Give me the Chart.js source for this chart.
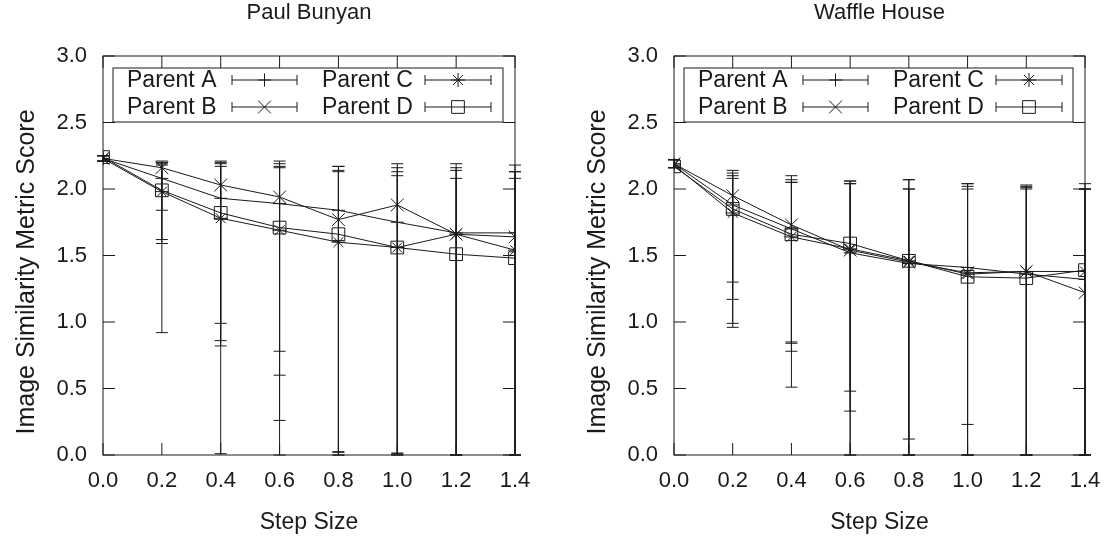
<!DOCTYPE html>
<html lang="en">
<head>
<meta charset="UTF-8">
<script src="https://cdn.jsdelivr.net/npm/chart.js@4.4.1/dist/chart.umd.min.js"></script>
<style>
    body {
        margin: 0;
        background: #fff;
    }

    .charts {
        display: flex;
        width: 1116px;
        height: 542px;
    }

    canvas {
        display: block;
    }
</style>
<title>Image Similarity Metric Score vs Step Size</title>
</head>
<body>
<div class="charts">
    <canvas id="chartPB" width="558" height="542"></canvas>
    <canvas id="chartWH" width="558" height="542"></canvas>
</div>

<script>
    // x positions and axis ticks
    const stepSizes = [0.0, 0.2, 0.4, 0.6, 0.8, 1.0, 1.2, 1.4];
    const scoreTicks = [0.0, 0.5, 1.0, 1.5, 2.0, 2.5, 3.0];
    const parentNames = ['Parent A', 'Parent B', 'Parent C', 'Parent D'];

    // Paul Bunyan - mean scores
    const pbParentA = [2.23, 2.08, 1.93, 1.89, 1.84, 1.75, 1.67, 1.67];
    const pbParentB = [2.23, 2.16, 2.03, 1.94, 1.77, 1.88, 1.66, 1.64];
    const pbParentC = [2.23, 1.98, 1.78, 1.69, 1.60, 1.56, 1.66, 1.54];
    const pbParentD = [2.24, 1.99, 1.82, 1.71, 1.66, 1.56, 1.51, 1.48];
    // Paul Bunyan - error bar ends
    const pbLowA = [2.21, 0.92, 0.01, 0.00, 0.00, 0.00, 0.00, 0.00];
    const pbHighA = [2.25, 2.20, 2.20, 2.19, 2.17, 2.16, 2.14, 2.13];
    const pbLowB = [2.21, 1.84, 0.99, 0.78, 0.025, 0.015, 0.00, 0.00];
    const pbHighB = [2.25, 2.21, 2.21, 2.21, 2.17, 2.19, 2.19, 2.18];
    const pbLowC = [2.21, 1.59, 0.82, 0.26, 0.02, 0.01, 0.00, 0.00];
    const pbHighC = [2.25, 2.19, 2.19, 2.17, 2.14, 2.13, 2.16, 2.08];
    const pbLowD = [2.21, 1.62, 0.86, 0.60, 0.00, 0.00, 0.00, 0.00];
    const pbHighD = [2.25, 2.18, 2.17, 2.16, 2.13, 2.10, 2.08, 2.13];

    // Waffle House - mean scores
    const whParentA = [2.19, 1.88, 1.70, 1.52, 1.44, 1.41, 1.36, 1.32];
    const whParentB = [2.19, 1.95, 1.73, 1.54, 1.45, 1.37, 1.38, 1.22];
    const whParentC = [2.18, 1.82, 1.64, 1.55, 1.46, 1.36, 1.38, 1.38];
    const whParentD = [2.17, 1.85, 1.66, 1.59, 1.46, 1.34, 1.33, 1.39];
    // Waffle House - error bar ends
    const whLowA = [2.16, 0.96, 0.51, 0.00, 0.00, 0.00, 0.00, 0.00];
    const whHighA = [2.22, 2.12, 2.07, 2.04, 2.00, 2.02, 2.02, 2.00];
    const whLowB = [2.16, 1.30, 0.85, 0.48, 0.12, 0.23, 0.00, 0.00];
    const whHighB = [2.22, 2.14, 2.10, 2.06, 2.07, 2.04, 2.03, 2.04];
    const whLowC = [2.16, 0.99, 0.78, 0.33, 0.00, 0.00, 0.00, 0.00];
    const whHighC = [2.22, 2.08, 2.05, 2.06, 2.07, 2.04, 2.01, 2.00];
    const whLowD = [2.16, 1.17, 0.84, 0.00, 0.00, 0.00, 0.00, 0.00];
    const whHighD = [2.22, 2.10, 2.05, 2.04, 2.00, 2.00, 2.00, 2.00];

    const FONT = "'Liberation Sans', Arial, Helvetica, sans-serif";
    const INK = '#1a1a1a';
    const markers = [
        { style: 'cross', radius: 6.5 },
        { style: 'crossRot', radius: 9 },
        { style: 'star', radius: 7 },
        { style: 'rect', radius: 9 }
    ];

    // gnuplot-like frame: border, inward ticks on all sides, error bars
    const frameAndErrors = {
        id: 'frameAndErrors',
        beforeDatasetsDraw(chart) {
            const { ctx, chartArea: a, scales: { x, y } } = chart;
            const tick = 12;
            const cap = 6;
            ctx.save();
            ctx.strokeStyle = INK;
            ctx.lineWidth = 1;
            ctx.strokeRect(a.left, a.top, a.right - a.left, a.bottom - a.top);

            ctx.beginPath();
            x.ticks.forEach(t => {
                const px = x.getPixelForValue(t.value);
                ctx.moveTo(px, a.bottom);
                ctx.lineTo(px, a.bottom - tick);
                ctx.moveTo(px, a.top);
                ctx.lineTo(px, a.top + tick);
            });
            y.ticks.forEach(t => {
                const py = y.getPixelForValue(t.value);
                ctx.moveTo(a.left, py);
                ctx.lineTo(a.left + tick, py);
                ctx.moveTo(a.right, py);
                ctx.lineTo(a.right - tick, py);
            });
            ctx.stroke();

            ctx.beginPath();
            chart.data.datasets.forEach(ds => {
                ds.data.forEach((pt, i) => {
                    const px = x.getPixelForValue(pt.x);
                    const lo = y.getPixelForValue(ds.errLow[i]);
                    const hi = y.getPixelForValue(ds.errHigh[i]);
                    ctx.moveTo(px, lo);
                    ctx.lineTo(px, hi);
                    ctx.moveTo(px - cap, lo);
                    ctx.lineTo(px + cap, lo);
                    ctx.moveTo(px - cap, hi);
                    ctx.lineTo(px + cap, hi);
                });
            });
            ctx.stroke();
            ctx.restore();
        }
    };

    // panel title over the plot centre and rotated y-axis title
    const panelTitles = {
        id: 'panelTitles',
        afterDraw(chart, args, opts) {
            const { ctx, chartArea: a } = chart;
            ctx.save();
            ctx.fillStyle = INK;
            ctx.textAlign = 'center';
            ctx.textBaseline = 'middle';
            ctx.font = '22px ' + FONT;
            ctx.fillText(opts.text, (a.left + a.right) / 2, 13);

            ctx.translate(opts.yTitleX, 272);
            ctx.rotate(-Math.PI / 2);
            ctx.font = '25px ' + FONT;
            ctx.fillText(opts.yTitle, 0, 0);
            ctx.restore();
        }
    };

    // key box inside the top of the plot
    const keyBox = {
        id: 'keyBox',
        afterDraw(chart) {
            const { ctx, chartArea: a } = chart;
            const left = a.left + 10;
            const right = a.right - 12;
            const top = a.top + 12;
            const bottom = a.top + 66;
            ctx.save();
            ctx.fillStyle = '#fff';
            ctx.fillRect(left, top, right - left, bottom - top);
            ctx.strokeStyle = INK;
            ctx.lineWidth = 1;
            ctx.strokeRect(left, top, right - left, bottom - top);

            const cols = [{ text: 24, s0: 129, s1: 194 }, { text: 219, s0: 322, s1: 388 }];
            const rows = [a.top + 24, a.top + 51];
            chart.data.datasets.forEach((ds, i) => {
                const col = cols[Math.floor(i / 2)];
                const ry = rows[i % 2];
                ctx.fillStyle = INK;
                ctx.font = '23px ' + FONT;
                ctx.textAlign = 'left';
                ctx.textBaseline = 'middle';
                ctx.fillText(ds.label, a.left + col.text, ry + 1);

                const x0 = a.left + col.s0;
                const x1 = a.left + col.s1;
                ctx.beginPath();
                ctx.moveTo(x0, ry);
                ctx.lineTo(x1, ry);
                ctx.moveTo(x0, ry - 5);
                ctx.lineTo(x0, ry + 5);
                ctx.moveTo(x1, ry - 5);
                ctx.lineTo(x1, ry + 5);
                ctx.stroke();

                ctx.fillStyle = 'rgba(0,0,0,0)';
                Chart.helpers.drawPoint(ctx, {
                    pointStyle: ds.pointStyle,
                    radius: ds.pointRadius,
                    borderWidth: 1,
                    rotation: 0
                }, (x0 + x1) / 2, ry);
            });
            ctx.restore();
        }
    };

    function makeChart(canvasId, title, means, lows, highs, axisWidth, yTitleX, rightPad) {
        const datasets = parentNames.map((name, i) => ({
            label: name,
            data: stepSizes.map((s, j) => ({ x: s, y: means[i][j] })),
            errLow: lows[i],
            errHigh: highs[i],
            borderColor: INK,
            borderWidth: 1,
            pointStyle: markers[i].style,
            pointRadius: markers[i].radius,
            pointBorderWidth: 1,
            pointBorderColor: INK,
            pointBackgroundColor: 'rgba(0,0,0,0)',
            tension: 0,
            fill: false
        }));

        return new Chart(document.getElementById(canvasId), {
            type: 'line',
            data: { datasets: datasets },
            options: {
                responsive: false,
                animation: false,
                layout: { padding: { left: 0, right: rightPad, top: 56, bottom: 0 } },
                plugins: {
                    legend: { display: false },
                    tooltip: { enabled: false },
                    title: { display: false },
                    panelTitles: {
                        text: title,
                        yTitle: 'Image Similarity Metric Score',
                        yTitleX: yTitleX
                    }
                },
                scales: {
                    x: {
                        type: 'linear',
                        min: 0,
                        max: 1.4,
                        afterBuildTicks: s => { s.ticks = stepSizes.map(v => ({ value: v })); },
                        afterFit: s => { s.height = 87; },
                        grid: { display: false, drawTicks: false },
                        border: { display: false },
                        ticks: {
                            padding: 13,
                            color: INK,
                            autoSkip: false,
                            maxRotation: 0,
                            font: { family: FONT, size: 22 },
                            callback: v => Number(v).toFixed(1)
                        },
                        title: {
                            display: true,
                            text: 'Step Size',
                            color: INK,
                            font: { family: FONT, size: 23 },
                            padding: { top: 0, bottom: 6 }
                        }
                    },
                    y: {
                        type: 'linear',
                        min: 0,
                        max: 3,
                        afterBuildTicks: s => { s.ticks = scoreTicks.map(v => ({ value: v })); },
                        afterFit: s => { s.width = axisWidth; },
                        grid: { display: false, drawTicks: false },
                        border: { display: false },
                        ticks: {
                            padding: 16,
                            color: INK,
                            font: { family: FONT, size: 22 },
                            callback: v => Number(v).toFixed(1)
                        }
                    }
                }
            },
            plugins: [frameAndErrors, keyBox, panelTitles]
        });
    }

    makeChart('chartPB', 'Paul Bunyan',
        [pbParentA, pbParentB, pbParentC, pbParentD],
        [pbLowA, pbLowB, pbLowC, pbLowD],
        [pbHighA, pbHighB, pbHighC, pbHighD],
        103, 27, 43);

    makeChart('chartWH', 'Waffle House',
        [whParentA, whParentB, whParentC, whParentD],
        [whLowA, whLowB, whLowC, whLowD],
        [whHighA, whHighB, whHighC, whHighD],
        116, 40, 31);
</script>
</body>
</html>
